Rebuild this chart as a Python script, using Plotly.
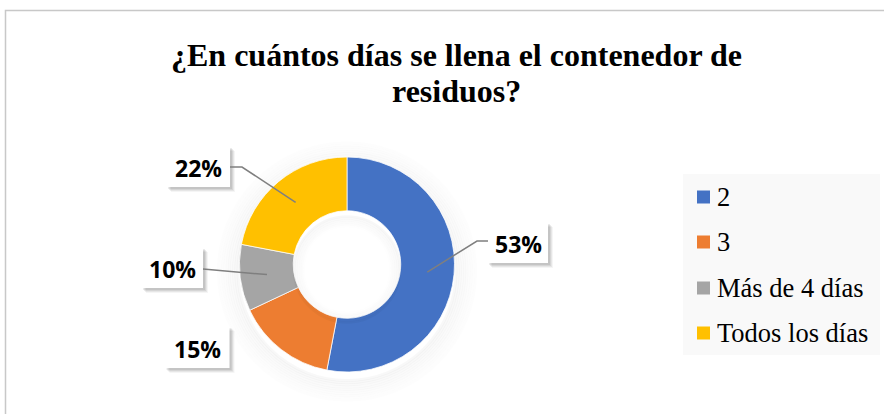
import math
import plotly.graph_objects as go

# ---- data ----
categories = ["2", "3", "Más de 4 días", "Todos los días"]
percentages = [53, 15, 10, 22]
colors = ["#4472C4", "#ED7D31", "#A5A5A5", "#FFC000"]
title_lines = ["¿En cuántos días se llena el contenedor de", "residuos?"]

# ---- layout constants (pixels) ----
W, H = 884, 414
CX, CY, R_OUT = 347, 264.5, 107.5
HOLE = 0.5
R_MID = R_OUT * (1 + HOLE) / 2

# label box centres and leader elbows (pixel space)
label_boxes = {
    "2": dict(cx=518, cy=243, w=60, h=40, elbow=(477, 241), start=(488, 241)),
    "3": dict(cx=197.5, cy=347.5, w=64, h=41, elbow=None, start=None),
    "Más de 4 días": dict(cx=172.5, cy=268, w=61, h=40, elbow=None, start=(203, 269)),
    "Todos los días": dict(cx=198.5, cy=167, w=63, h=40, elbow=(242, 167), start=(230, 167)),
}


def X(px):
    return px / W


def Y(py):
    return 1 - py / H


fig = go.Figure()

fig.add_trace(go.Pie(
    labels=categories,
    values=percentages,
    marker=dict(colors=colors, line=dict(color="white", width=0.75)),
    hole=HOLE,
    sort=False,
    direction="clockwise",
    rotation=0,
    textinfo="none",
    hoverinfo="label+percent",
    showlegend=False,
    domain=dict(x=[X(CX - R_OUT), X(CX + R_OUT)], y=[Y(CY + R_OUT), Y(CY - R_OUT)]),
))

shapes = []
annotations = []

# chart frame
shapes.append(dict(type="rect", xref="paper", yref="paper",
                   x0=X(5.5), x1=X(W + 20), y0=Y(H + 20), y1=Y(10.5),
                   line=dict(color="#C8C8C8", width=1.5), fillcolor="rgba(0,0,0,0)",
                   layer="below"))

# soft shadow around the ring, cast slightly downward
for i in range(10):
    r = 109 + i * 2.2
    shapes.append(dict(type="circle", xref="paper", yref="paper",
                       x0=X(CX - r), x1=X(CX + r), y0=Y(CY + 7 + r), y1=Y(CY + 7 - r),
                       line=dict(color="rgba(0,0,0,%.3f)" % (0.028 - i * 0.0025), width=3),
                       fillcolor="rgba(0,0,0,0)", layer="below"))
for i in range(6):
    r = 53 - i * 2
    shapes.append(dict(type="circle", xref="paper", yref="paper",
                       x0=X(CX - r), x1=X(CX + r), y0=Y(CY + 5 + r), y1=Y(CY + 5 - r),
                       line=dict(color="rgba(0,0,0,%.3f)" % (0.03 - i * 0.005), width=2.5),
                       fillcolor="rgba(0,0,0,0)", layer="above"))

# data labels with leader lines
total = sum(percentages)
cum = 0
for cat, val in zip(categories, percentages):
    mid = (cum + val / 2) / total * 2 * math.pi
    cum += val
    px = CX + R_MID * math.sin(mid)
    py = CY - R_MID * math.cos(mid)
    b = label_boxes[cat]
    x0, x1 = b["cx"] - b["w"] / 2, b["cx"] + b["w"] / 2
    y0, y1 = b["cy"] - b["h"] / 2, b["cy"] + b["h"] / 2
    # box shadow
    for k, a in [(5, 0.04), (4, 0.06), (3, 0.07), (2, 0.08)]:
        shapes.append(dict(type="rect", xref="paper", yref="paper",
                           x0=X(x0 + k - 1), x1=X(x1 + k), y0=Y(y1 + k), y1=Y(y0 + k - 1),
                           line=dict(width=0), fillcolor="rgba(0,0,0,%.2f)" % a, layer="above"))
    shapes.append(dict(type="rect", xref="paper", yref="paper",
                       x0=X(x0), x1=X(x1), y0=Y(y1), y1=Y(y0),
                       line=dict(width=0), fillcolor="white", layer="above"))
    if b["start"] is not None:
        pts = [b["start"]]
        if b["elbow"] is not None:
            pts.append(b["elbow"])
        pts.append((px, py))
        path = "M " + " L ".join("%f,%f" % (X(a), Y(c)) for a, c in pts)
        shapes.append(dict(type="path", xref="paper", yref="paper", path=path,
                           line=dict(color="#7F7F7F", width=1.5), layer="above"))
    annotations.append(dict(xref="paper", yref="paper", x=X(b["cx"]), y=Y(b["cy"] + 1),
                            text="<b>%d%%</b>" % val, showarrow=False,
                            xanchor="center", yanchor="middle",
                            font=dict(family="Open Sans", size=23, color="#000000")))

# legend
shapes.append(dict(type="rect", xref="paper", yref="paper",
                   x0=X(683), x1=X(880), y0=Y(355), y1=Y(174),
                   line=dict(width=0), fillcolor="#F9F9F9", layer="below"))
legend_y = [197, 242, 288, 333]
for cat, col, ly in zip(categories, colors, legend_y):
    shapes.append(dict(type="rect", xref="paper", yref="paper",
                       x0=X(697), x1=X(710), y0=Y(ly + 6.5), y1=Y(ly - 6.5),
                       line=dict(width=0), fillcolor=col, layer="above"))
    annotations.append(dict(xref="paper", yref="paper", x=X(715), y=Y(ly),
                            text=cat, showarrow=False, xanchor="left", yanchor="middle",
                            font=dict(family="Liberation Serif, Times New Roman, serif",
                                      size=26.5, color="#000000")))

# title
for line, ty in zip(title_lines, [55, 91]):
    annotations.append(dict(xref="paper", yref="paper", x=X(456), y=Y(ty),
                            text="<b>%s</b>" % line, showarrow=False,
                            xanchor="center", yanchor="middle",
                            font=dict(family="Liberation Serif, Times New Roman, serif",
                                      size=32, color="#000000")))

fig.update_layout(
    width=W, height=H,
    margin=dict(l=0, r=0, t=0, b=0),
    paper_bgcolor="white",
    plot_bgcolor="white",
    shapes=shapes,
    annotations=annotations,
)

fig.write_html("out.html")
